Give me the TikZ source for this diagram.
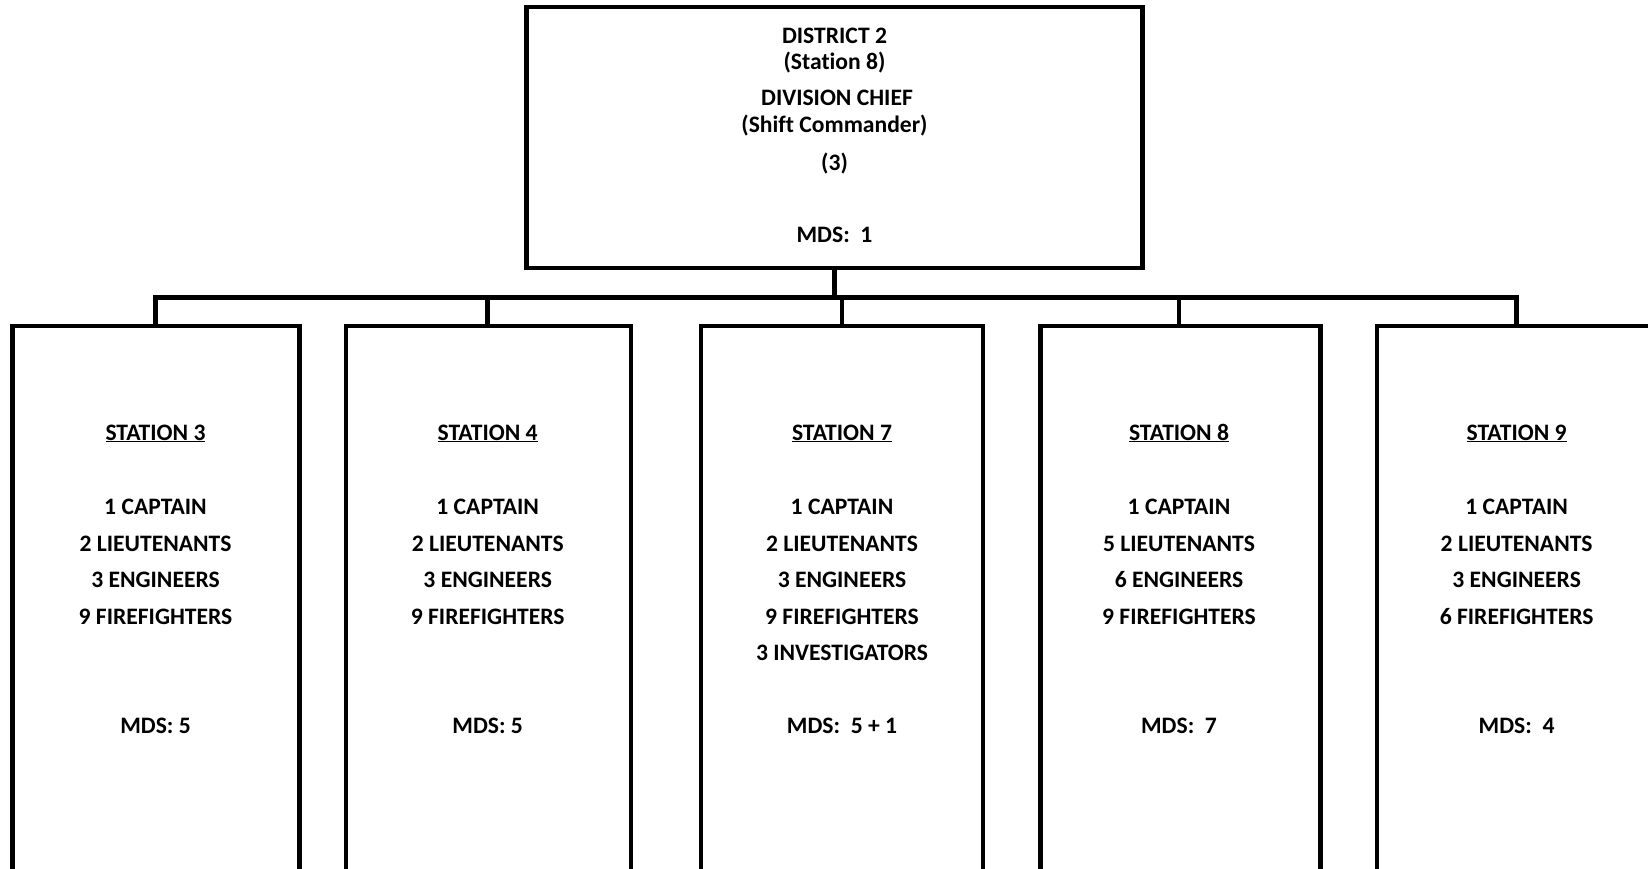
\documentclass[tikz,border=0pt]{standalone}
\usepackage{fontspec}
\setmainfont{Carlito}[Ligatures=NoCommon]
\begin{document}
\begin{tikzpicture}[x=1pt,y=-1pt,
  boxst/.style={draw=black,line width=4.5pt,fill=none,inner sep=0pt,outer sep=0pt,anchor=north west},
  wire/.style={draw=black,line width=4.5pt},
  txt/.style={font=\bfseries\fontsize{23.6}{27}\selectfont,inner sep=0pt,anchor=base}]
\useasboundingbox (0,0) rectangle (1648,869);
\begin{scope}
\clip (0,0) rectangle (1648,869);
% top box
\node[boxst,minimum width=616pt,minimum height=261pt] (top) at (526.5,7) {};
% station boxes
\node[boxst,minimum width=287pt,minimum height=546pt] (s3) at (12.6,326) {};
\node[boxst,minimum width=285pt,minimum height=546pt] (s4) at (345.8,326) {};
\node[boxst,minimum width=282pt,minimum height=546pt] (s7) at (701,326) {};
\node[boxst,minimum width=280pt,minimum height=546pt] (s8) at (1040.5,326) {};
\node[boxst,minimum width=285pt,minimum height=546pt] (s9) at (1376.8,326) {};
% connectors
\coordinate (bus) at (834.5,297.5);
\coordinate (b3) at (155.5,297.5);
\coordinate (b4) at (487.7,297.5);
\coordinate (b7) at (842,297.5);
\coordinate (b8) at (1179,297.5);
\coordinate (b9) at (1516.6,297.5);
\draw[wire] (top.south -| bus) -- (bus);
\draw[wire,line cap=butt] ([xshift=-2.25pt]b3) -- ([xshift=2.25pt]b9);
\draw[wire] (b3) -- (b3 |- s3.north);
\draw[wire] (b4) -- (b4 |- s4.north);
\draw[wire] (b7) -- (b7 |- s7.north);
\draw[wire] (b8) -- (b8 |- s8.north);
\draw[wire] (b9) -- (b9 |- s9.north);
\end{scope}
% top text
\node[txt] (t1) at (834.5,44) {DISTRICT 2};
\node[txt] (t2) at (834.5,70) {(Station 8)};
\node[txt] (t3) at (837,106) {DIVISION CHIEF};
\node[txt] (t4) at (834.5,133) {(Shift Commander)};
\node[txt] (t5) at (834.5,171) {(3)};
\node[txt] (t6) at (834.5,242) {MDS:\ \ 1};
% station texts
\foreach \n/\x/\a/\b/\c/\d/\e/\m in {
  3/155.5/1 CAPTAIN/2 LIEUTENANTS/3 ENGINEERS/9 FIREFIGHTERS//MDS: 5,
  4/487.7/1 CAPTAIN/2 LIEUTENANTS/3 ENGINEERS/9 FIREFIGHTERS//MDS: 5,
  7/842/1 CAPTAIN/2 LIEUTENANTS/3 ENGINEERS/9 FIREFIGHTERS/3 INVESTIGATORS/MDS:\ \ 5 + 1,
  8/1179/1 CAPTAIN/5 LIEUTENANTS/6 ENGINEERS/9 FIREFIGHTERS//MDS:\ \ 7,
  9/1516.6/1 CAPTAIN/2 LIEUTENANTS/3 ENGINEERS/6 FIREFIGHTERS//MDS:\ \ 4}{
  \node[txt] (h\n) at (\x,440) {\underline{STATION \n}};
  \node[txt] (l1\n) at (\x,514) {\a};
  \node[txt] (l2\n) at (\x,551) {\b};
  \node[txt] (l3\n) at (\x,587.5) {\c};
  \node[txt] (l4\n) at (\x,624.5) {\d};
  \node[txt] (l5\n) at (\x,660) {\e};
  \node[txt] (m\n) at (\x,733.5) {\m};
}
\end{tikzpicture}
\end{document}
